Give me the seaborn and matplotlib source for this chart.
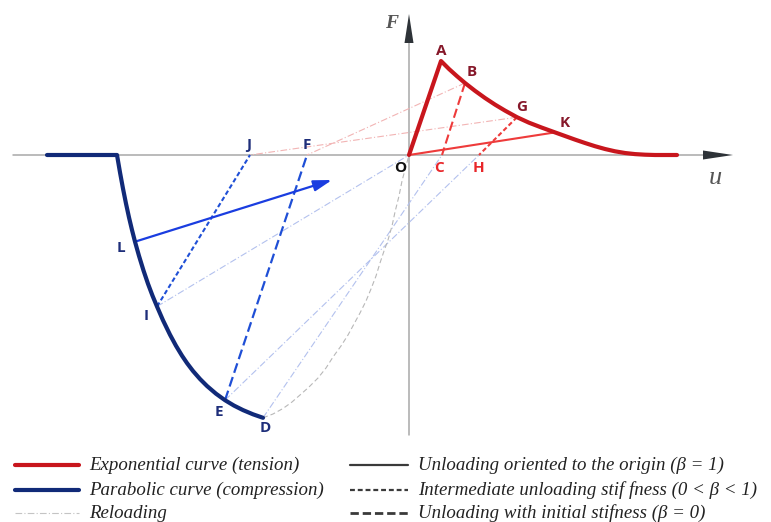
import matplotlib
matplotlib.use("Agg")
import matplotlib.pyplot as plt
import seaborn as sns

sns.set_theme(style="white")
plt.rcParams["font.family"] = ["Liberation Serif", "DejaVu Serif"]

# ---------------- data (u: displacement, F: force; arbitrary units) ----------------
# tension envelope (exponential softening), starting at the origin
tension_u = [0.00, 0.32, 0.40, 0.48, 0.56, 0.66, 0.76, 0.86, 0.96, 1.08, 1.20, 1.33, 1.46,
             1.56, 1.66, 1.76, 1.86, 1.96, 2.06, 2.16, 2.26, 2.36, 2.46, 2.68]
tension_F = [0.00, 0.94, 0.86, 0.788, 0.72, 0.642, 0.570, 0.504, 0.444, 0.378, 0.323, 0.273, 0.226,
             0.190, 0.154, 0.120, 0.088, 0.060, 0.037, 0.020, 0.009, 0.003, 0.000, 0.000]

# compression envelope (parabolic), with residual plateau on the left
compression_u = [-3.62, -2.92, -2.89, -2.86, -2.83, -2.80, -2.77, -2.74, -2.70, -2.655, -2.61,
                 -2.565, -2.52, -2.46, -2.39, -2.33, -2.27, -2.22, -2.16, -2.09, -2.02, -1.93,
                 -1.84, -1.75, -1.66, -1.56, -1.46]
compression_F = [0.00, 0.00, -0.174, -0.336, -0.486, -0.624, -0.750, -0.867, -1.009, -1.155, -1.288,
                 -1.407, -1.515, -1.653, -1.797, -1.908, -2.007, -2.081, -2.160, -2.240, -2.310, -2.387,
                 -2.452, -2.506, -2.551, -2.593, -2.628]

# labelled states
points = {
    "O": (0.00, 0.00), "A": (0.32, 0.94), "B": (0.56, 0.72), "G": (1.08, 0.378),
    "K": (1.46, 0.226), "C": (0.33, 0.00), "H": (0.70, 0.00),
    "L": (-2.74, -0.867), "I": (-2.52, -1.515), "E": (-1.84, -2.452), "D": (-1.46, -2.628),
    "J": (-1.59, 0.00), "F": (-1.02, 0.00),
}
arrow_tip = (-0.77, -0.25)

# curved unloading/reloading branch from D back to the origin
branch_u = [-1.46, -1.36, -1.26, -1.17, -1.09, -1.00, -0.91, -0.83, -0.76, -0.68, -0.61, -0.55,
            -0.49, -0.43, -0.38, -0.33, -0.29, -0.25, -0.21, -0.17, -0.14, -0.10, -0.07, -0.03, 0.00]
branch_F = [-2.628, -2.59, -2.535, -2.47, -2.40, -2.32, -2.23, -2.13, -2.02, -1.91, -1.80, -1.69,
            -1.58, -1.46, -1.34, -1.21, -1.08, -0.96, -0.85, -0.71, -0.57, -0.41, -0.26, -0.11, 0.00]

# ---------------- styling ----------------
RED_ENV = "#c8161d"
RED_UNL = "#ee3b3b"
RED_LBL_DARK = "#86182a"
RED_LBL = "#e8262a"
BLUE_ENV = "#112a78"
BLUE_UNL = "#1f4fd6"
BLUE_ARROW = "#1a3de0"
BLUE_LBL = "#1e2e7a"
RELOAD_RED = "#f2b4b4"
RELOAD_BLUE = "#b3c1ee"
GREY_BRANCH = "#b8b8b8"
AXIS_GREY = "#a8a8a8"
ARROW_DARK = "#2e3338"

LONG_DASH = (0, (4.5, 2.0))
SHORT_DASH = (0, (2.2, 1.3))
DASH_DOT = (0, (6, 2, 1, 2))

W, H = 771, 522
fig = plt.figure(figsize=(W / 100, H / 100), dpi=100)
ax = fig.add_axes([0, 0, 1, 1])
ax.set_xlim(-4.09, 3.62)
ax.set_ylim(-3.67, 1.55)
ax.axis("off")

# ---------------- axes with arrow heads ----------------
u_axis = (-3.96, 2.94, 3.24)     # start, head base, tip
F_axis = (-2.80, 1.12, 1.41)
half_w = 0.045
ax.plot([u_axis[0], u_axis[1]], [0, 0], color=AXIS_GREY, lw=1.1, zorder=1)
ax.plot([0, 0], [F_axis[0], F_axis[1]], color=AXIS_GREY, lw=1.1, zorder=1)
ax.fill([u_axis[1], u_axis[2], u_axis[1]], [half_w, 0, -half_w], color=ARROW_DARK, zorder=2, lw=0)
ax.fill([-half_w, 0, half_w], [F_axis[1], F_axis[2], F_axis[1]], color=ARROW_DARK, zorder=2, lw=0)
ax.text(-0.17, 1.32, "F", fontsize=14, fontweight="bold", fontstyle="italic",
        color="#555555", ha="center", va="center")
ax.text(3.06, -0.23, "u", fontsize=19, fontstyle="italic", color="#555555",
        ha="center", va="center")


def seg(p, q, color, lw, ls, z=3):
    xs = [points[p][0], points[q][0]]
    ys = [points[p][1], points[q][1]]
    sns.lineplot(x=xs, y=ys, sort=False, estimator=None, ax=ax, color=color,
                 lw=lw, linestyle=ls, zorder=z)


# ---------------- reloading paths ----------------
seg("B", "F", RELOAD_RED, 0.8, DASH_DOT, 2)
seg("G", "J", RELOAD_RED, 0.8, DASH_DOT, 2)
seg("I", "O", RELOAD_BLUE, 0.8, DASH_DOT, 2)
seg("E", "H", RELOAD_BLUE, 0.8, DASH_DOT, 2)
seg("D", "C", RELOAD_BLUE, 0.8, DASH_DOT, 2)
sns.lineplot(x=branch_u, y=branch_F, sort=False, estimator=None, ax=ax, color=GREY_BRANCH,
             lw=0.8, linestyle=(0, (4.5, 2.7)), zorder=2)

# ---------------- unloading paths ----------------
seg("O", "K", RED_UNL, 1.5, "-")
seg("B", "C", RED_UNL, 1.5, LONG_DASH)
seg("G", "H", RED_UNL, 1.5, SHORT_DASH)
seg("I", "J", BLUE_UNL, 1.5, SHORT_DASH)
seg("E", "F", BLUE_UNL, 1.6, LONG_DASH)
ax.annotate("", xy=arrow_tip, xytext=points["L"],
            arrowprops=dict(arrowstyle="-|>,head_length=1.0,head_width=0.3", color=BLUE_ARROW,
                            lw=1.6, mutation_scale=11, shrinkA=0, shrinkB=0), zorder=3)

# ---------------- envelopes ----------------
sns.lineplot(x=tension_u, y=tension_F, sort=False, estimator=None, ax=ax,
             color=RED_ENV, lw=3.0, zorder=4, solid_capstyle="round", solid_joinstyle="round")
sns.lineplot(x=compression_u, y=compression_F, sort=False, estimator=None, ax=ax,
             color=BLUE_ENV, lw=3.0, zorder=4, solid_capstyle="round", solid_joinstyle="round")

# ---------------- point labels ----------------
label_style = {
    "A": (RED_LBL_DARK, (0.32, 1.04)), "B": (RED_LBL_DARK, (0.63, 0.83)),
    "G": (RED_LBL_DARK, (1.13, 0.48)), "K": (RED_LBL_DARK, (1.56, 0.32)),
    "C": (RED_LBL, (0.30, -0.13)), "H": (RED_LBL, (0.70, -0.13)),
    "O": ("#111111", (-0.09, -0.13)),
    "J": (BLUE_LBL, (-1.60, 0.10)), "F": (BLUE_LBL, (-1.02, 0.10)),
    "L": (BLUE_LBL, (-2.88, -0.93)), "I": (BLUE_LBL, (-2.63, -1.61)),
    "E": (BLUE_LBL, (-1.90, -2.57)), "D": (BLUE_LBL, (-1.44, -2.73)),
}
for name, (col, (lx, ly)) in label_style.items():
    ax.text(lx, ly, name, color=col, fontsize=11, fontweight="bold",
            family=["Open Sans", "DejaVu Sans"], ha="center", va="center", zorder=5)

# ---------------- legend ----------------
legend_rows = [465, 490, 513]
left_items = [
    ("Exponential curve (tension)", RED_ENV, 3.0, "-"),
    ("Parabolic curve (compression)", BLUE_ENV, 3.0, "-"),
    ("Reloading", "#c4c4c4", 0.8, DASH_DOT),
]
right_items = [
    ("Unloading oriented to the origin (β = 1)", "#3a3a3a", 1.6, "-"),
    ("Intermediate unloading stif fness (0 < β < 1)", "#3a3a3a", 1.6, SHORT_DASH),
    ("Unloading with initial stifness (β = 0)", "#3a3a3a", 2.0, (0, (3.0, 1.4))),
]
for (items, x0, x1, xt) in [(left_items, 15, 79, 89), (right_items, 350, 408, 418)]:
    for (text, col, lw, ls), py in zip(items, legend_rows):
        yf = 1 - py / H
        fig.add_artist(plt.Line2D([x0 / W, x1 / W], [yf, yf], transform=fig.transFigure,
                                  color=col, lw=lw, linestyle=ls))
        fig.text(xt / W, yf, text, fontsize=13.6, fontstyle="italic", color="#222222",
                 ha="left", va="center")

fig.savefig("out.png", dpi=100)
